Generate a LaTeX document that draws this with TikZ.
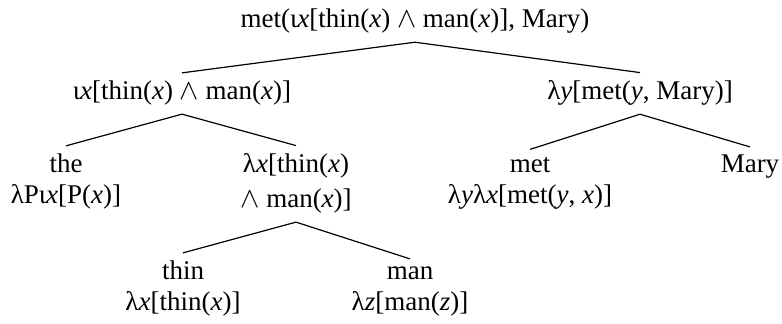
\documentclass[tikz,border=0pt]{standalone}
\usepackage{fontspec}
\setmainfont{Liberation Serif}
\newcommand{\sv}[1]{\textit{#1}}
\newcommand{\conj}{$\wedge$}
\tikzset{sem/.style={align=center,inner sep=4pt,anchor=base,font=\fontsize{13.5pt}{15.5pt}\selectfont}}

\begin{document}
\begin{tikzpicture}[x=0.5pt,y=-0.5pt]
  \useasboundingbox (0,0) rectangle (782,324);
  % base anchor sits on the last line of a node
  \node[sem] (root) at (415,28) {met(ι\sv{x}[thin(\sv{x}) \conj{} man(\sv{x})], Mary)};
  \node[sem] (iota) at (182,100) {ι\sv{x}[thin(\sv{x}) \conj{} man(\sv{x})]};
  \node[sem] (lamy) at (640,100) {λ\sv{y}[met(\sv{y}, Mary)]};
  \node[sem] (the) at (66,204) {the\\λPι\sv{x}[P(\sv{x})]};
  \node[sem] (lamx) at (296,208) {λ\sv{x}[thin(\sv{x})\\[2pt]\conj{} man(\sv{x})]};
  \node[sem] (met) at (530,204) {met\\λ\sv{y}λ\sv{x}[met(\sv{y}, \sv{x})]};
  \node[sem] (mary) at (750,173) {Mary};
  \node[sem] (thin) at (183,311) {thin\\λ\sv{x}[thin(\sv{x})]};
  \node[sem] (man) at (410,311) {man\\λ\sv{z}[man(\sv{z})]};
  \path[line width=0.6pt]
    (root.south) edge (iota.north)
    (root.south) edge (lamy.north)
    (iota.south) edge (the.north)
    (iota.south) edge (lamx.north)
    (lamy.south) edge (met.north)
    (lamy.south) edge (mary.north)
    (lamx.south) edge (thin.north)
    (lamx.south) edge (man.north);
\end{tikzpicture}
\end{document}
